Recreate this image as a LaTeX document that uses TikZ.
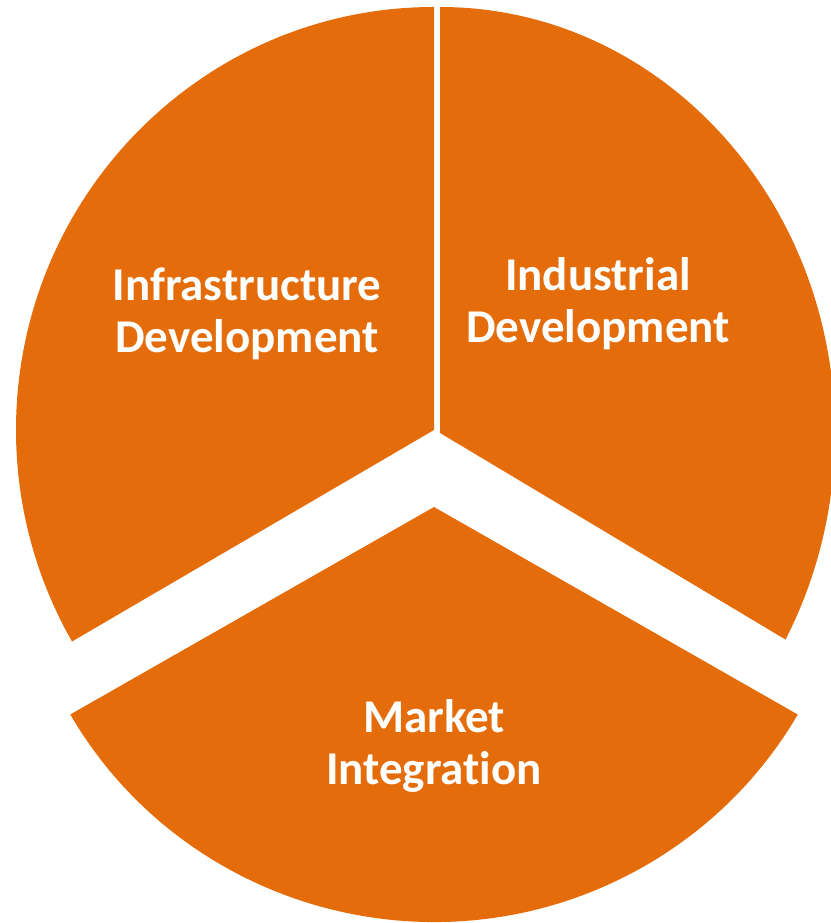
\documentclass[tikz,border=0pt]{standalone}
\usepackage{fontspec}
\setmainfont{Carlito}[Ligatures=NoCommon]
\definecolor{pieorange}{RGB}{228,108,10}
\tikzset{
  slice/.style={fill=pieorange},
  lbl/.style={text=white, font=\fontsize{47}{52}\selectfont\bfseries, align=center, inner sep=0pt, anchor=center}
}
\begin{document}
\begin{tikzpicture}[x=1pt,y=1pt]
\useasboundingbox (0,0) rectangle (830,923);
% top-left slice
\fill[slice] (434,493) -- +(0,423) arc[start angle=90,end angle=210,x radius=418,y radius=423] -- cycle;
% top-right slice
\fill[slice] (440,490) -- +(0,426) arc[start angle=90,end angle=-29,x radius=395,y radius=426] -- cycle;
% bottom slice (exploded)
\fill[slice] (434,416) -- ++({-420*cos(30)},{-415*sin(30)}) arc[start angle=210,end angle=330,x radius=420,y radius=415] -- cycle;
\node[lbl] (infra) at (247,{923-314}) {Infrastructure\\Development};
\node[lbl] (indus) at (598,{923-304}) {Industrial\\Development};
\node[lbl] (market) at (434,{923-746}) {Market\\Integration};
\end{tikzpicture}
\end{document}
